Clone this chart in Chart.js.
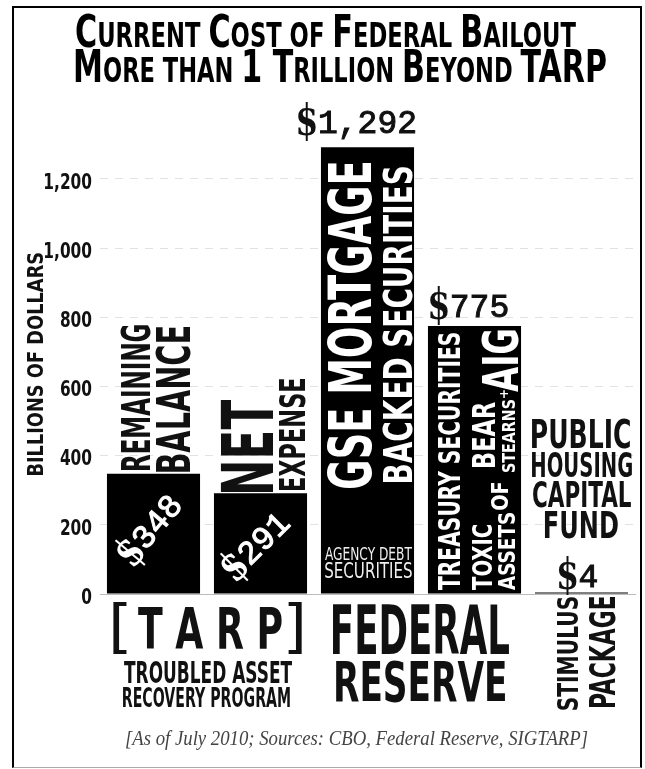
<!DOCTYPE html>
<html>
<head>
<meta charset="utf-8">
<script src="https://cdn.jsdelivr.net/npm/chart.js@4.4.1/dist/chart.umd.min.js"></script>
<style>
  html, body { margin: 0; padding: 0; background: #fff; }
  #wrap { position: relative; width: 645px; height: 769px; overflow: hidden; }
  #frame { position: absolute; left: 12px; top: 6px; width: 626px; height: 759px;
           border: 2px solid #000; border-bottom: 1px solid #aaa; }
  #chart { position: absolute; left: 0; top: 0; }
  #txt { position: absolute; left: 0; top: 0; pointer-events: none; }
</style>
</head>
<body>
<div id="wrap">
  <div id="frame"></div>
  <canvas id="chart" width="645" height="769"></canvas>
  <svg id="txt" width="645" height="769" xmlns="http://www.w3.org/2000/svg">
    <g font-family="'DejaVu Sans Condensed', 'DejaVu Sans', sans-serif" font-weight="bold" fill="#000">
      <text x="75" y="47" textLength="501" lengthAdjust="spacingAndGlyphs"><tspan font-size="44">C</tspan><tspan font-size="33">URRENT </tspan><tspan font-size="44">C</tspan><tspan font-size="33">OST OF </tspan><tspan font-size="44">F</tspan><tspan font-size="33">EDERAL </tspan><tspan font-size="44">B</tspan><tspan font-size="33">AILOUT</tspan></text>
      <text x="73" y="82" textLength="534" lengthAdjust="spacingAndGlyphs"><tspan font-size="44">M</tspan><tspan font-size="33">ORE THAN </tspan><tspan font-size="44">1 T</tspan><tspan font-size="33">RILLION </tspan><tspan font-size="44">B</tspan><tspan font-size="33">EYOND </tspan><tspan font-size="44">TARP</tspan></text>
    </g>
    <text x="125" y="745" font-family="'Liberation Serif', 'DejaVu Serif', serif" font-style="italic" font-size="20" fill="#444" textLength="463" lengthAdjust="spacingAndGlyphs">[As of July 2010; Sources: CBO, Federal Reserve, SIGTARP]</text>
  </svg>
</div>
<script>
// data (billions of dollars, July 2010)
const categories = ['Remaining Balance', 'Net Expense', 'GSE Mortgage Backed Securities',
                    'Treasury Securities / Toxic Assets', 'Public Housing Capital Fund'];
const values = [348, 291, 1292, 775, 4];
const tickValues = [0, 200, 400, 600, 800, 1000, 1200];

const COND = '"Liberation Sans Narrow", "DejaVu Sans Condensed", "Liberation Sans", sans-serif';
const SERIF = '"DejaVu Serif", "Liberation Serif", serif';
const MONO = '"Liberation Mono", "DejaVu Sans Mono", monospace';

// where the dollar amounts go, relative to each bar
const moneyPlace = [
    { inside: true, dx: -3.5, dy: -65, angle: -50 },
    { inside: true, dx: -4.5, dy: -49, angle: -45 },
    { dx: -10, dy: -14 },
    { dx: -5, dy: -9 },
    { dx: -3, dy: -6 }
];

// text boxes [text, 'h' or 'up', x0, y0, x1, y1, colour, weight]
const notes = [
    ['REMAINING', 'up', 121, 325, 150, 470, '#111', 'bold'],
    ['BALANCE', 'up', 155, 327, 190, 472, '#111', 'bold'],
    ['NET', 'up', 221, 400, 273, 492, '#111', 'bold'],
    ['EXPENSE', 'up', 278, 379, 305, 490, '#111', 'bold'],
    ['GSE MORTGAGE', 'up', 327, 163, 372, 488, '#fff', 'bold'],
    ['BACKED SECURITIES', 'up', 382, 167, 412, 482, '#fff', 'bold'],
    ['AGENCY DEBT', 'h', 325, 547, 412, 560, '#eee', 'normal'],
    ['SECURITIES', 'h', 325, 562, 412, 578, '#eee', 'normal'],
    ['TREASURY SECURITIES', 'up', 437, 333, 460, 590, '#fff', 'bold'],
    ['TOXIC', 'up', 472, 525, 492, 590, '#fff', 'bold'],
    ['ASSETS', 'up', 497, 513, 515, 590, '#fff', 'bold'],
    ['OF', 'up', 490, 483, 508, 510, '#fff', 'bold'],
    ['BEAR', 'up', 472, 402, 495, 467, '#fff', 'bold'],
    ['+', 'h', 500, 390, 508, 398, '#fff', 'bold'],
    ['STEARNS', 'up', 502, 400, 515, 472, '#fff', 'bold'],
    ['AIG', 'up', 480, 330, 518, 392, '#fff', 'bold'],
    ['PUBLIC', 'h', 532, 418, 630, 448, '#111', 'bold'],
    ['HOUSING', 'h', 532, 452, 632, 477, '#111', 'bold'],
    ['CAPITAL', 'h', 533, 480, 631, 507, '#111', 'bold'],
    ['FUND', 'h', 545, 510, 618, 538, '#111', 'bold'],
    ['[', 'h', 113, 602, 127, 655, '#111', 'normal'],
    ['T A R P', 'h', 138, 607, 282, 650, '#111', 'bold'],
    [']', 'h', 288, 602, 302, 655, '#111', 'normal'],
    ['TROUBLED ASSET', 'h', 124, 660, 292, 683, '#111', 'bold'],
    ['RECOVERY PROGRAM', 'h', 123, 687, 290, 707, '#111', 'bold'],
    ['FEDERAL', 'h', 333, 605, 509, 655, '#111', 'bold'],
    ['RESERVE', 'h', 336, 660, 505, 702, '#111', 'bold'],
    ['STIMULUS', 'up', 557, 597, 578, 710, '#111', 'bold'],
    ['PACKAGE', 'up', 588, 597, 615, 707, '#111', 'bold'],
    ['BILLIONS OF DOLLARS', 'up', 27, 253, 43, 475, '#111', 'bold']
];

// stretch a string so its ink fills len x hgt, centred on cx,cy
function fitText(ctx, txt, weight, family, cx, cy, len, hgt, angle, color) {
    ctx.save();
    ctx.font = weight + ' 100px ' + family;
    const m = ctx.measureText(txt);
    const w = m.actualBoundingBoxLeft + m.actualBoundingBoxRight;
    const h = m.actualBoundingBoxAscent + m.actualBoundingBoxDescent;
    ctx.translate(cx, cy);
    ctx.rotate(angle);
    ctx.scale(len / w, hgt / h);
    ctx.fillStyle = color;
    ctx.textAlign = 'left';
    ctx.textBaseline = 'alphabetic';
    ctx.fillText(txt, m.actualBoundingBoxLeft - w / 2, m.actualBoundingBoxAscent - h / 2);
    ctx.restore();
}

function moneyWidth(ctx, amount) {
    ctx.font = '33px ' + MONO;
    return 20 + ctx.measureText(amount).width;
}

// "$" + typewriter digits, origin at left end of baseline
function drawMoney(ctx, amount, ox, oy, angle, color) {
    ctx.save();
    ctx.translate(ox, oy);
    ctx.rotate(angle);
    fitText(ctx, '$', 'bold', SERIF, 9, -11, 18, 38, 0, color);
    ctx.font = '33px ' + MONO;
    ctx.fillStyle = color;
    ctx.strokeStyle = color;
    ctx.lineWidth = 1;
    ctx.textBaseline = 'alphabetic';
    ctx.fillText(amount, 20, 0);
    ctx.strokeText(amount, 20, 0);
    ctx.restore();
}

const annotations = {
    id: 'annotations',
    afterDatasetsDraw(chart) {
        const ctx = chart.ctx;
        const yScale = chart.scales.y;
        const area = chart.chartArea;
        const y0 = yScale.getPixelForValue(0);
        const sx = area.left - 100, sy = y0 - 594;

        // y tick labels
        ctx.save();
        ctx.font = 'bold 100px ' + COND;
        const z = ctx.measureText('0');
        const kx = 10.7 / z.width, ky = 16.5 / z.actualBoundingBoxAscent;
        ctx.fillStyle = '#111';
        ctx.textAlign = 'right';
        tickValues.forEach(v => {
            const py = yScale.getPixelForValue(v);
            ctx.save();
            ctx.translate(area.left - 8, py + 9.75);
            ctx.scale(kx, ky);
            ctx.fillText(v.toLocaleString('en-US'), 0, 0);
            ctx.restore();
        });
        ctx.restore();

        // dollar amounts
        chart.getDatasetMeta(0).data.forEach((bar, i) => {
            const amount = values[i].toLocaleString('en-US');
            const p = moneyPlace[i];
            const W = moneyWidth(ctx, amount);
            if (p.inside) {
                const a = p.angle * Math.PI / 180;
                const cx = bar.x + p.dx, cy = y0 + p.dy;
                const u = W / 2, v = -11;
                const ox = cx - (u * Math.cos(a) - v * Math.sin(a));
                const oy = cy - (u * Math.sin(a) + v * Math.cos(a));
                drawMoney(ctx, amount, ox, oy, a, '#fff');
            } else {
                drawMoney(ctx, amount, bar.x + p.dx - W / 2, bar.y + p.dy, 0, '#111');
            }
        });

        // labels
        notes.forEach(n => {
            const [txt, kind, x0, y0b, x1, y1, col, wt] = n;
            const a = x0 + sx, b = y0b + sy, c = x1 + sx, d = y1 + sy;
            if (kind === 'up') {
                fitText(ctx, txt, wt, COND, (a + c) / 2, (b + d) / 2, d - b, c - a, -Math.PI / 2, col);
            } else {
                fitText(ctx, txt, wt, COND, (a + c) / 2, (b + d) / 2, c - a, d - b, 0, col);
            }
        });
    }
};

new Chart(document.getElementById('chart'), {
    type: 'bar',
    data: {
        labels: categories,
        datasets: [{
            data: values,
            backgroundColor: '#000',
            borderWidth: 0,
            categoryPercentage: 1,
            barPercentage: 0.87
        }]
    },
    options: {
        responsive: false,
        animation: false,
        devicePixelRatio: 1,
        layout: { padding: { left: 13, right: 10, top: 144.4, bottom: 175 } },
        plugins: {
            legend: { display: false },
            tooltip: { enabled: false },
            title: { display: false }
        },
        scales: {
            x: {
                grid: { display: false },
                ticks: { display: false },
                border: { display: true, color: '#bbb', width: 1 },
                afterFit: s => { s.height = 0; }
            },
            y: {
                min: 0,
                max: 1300,
                ticks: { display: false },
                grid: { color: '#e2e2e2', lineWidth: 1, drawTicks: false },
                border: { display: false, dash: [8, 7] },
                afterBuildTicks: s => { s.ticks = tickValues.map(v => ({ value: v })); },
                afterFit: s => { s.width = 87; }
            }
        }
    }
    ,
    plugins: [annotations]
});
</script>
</body>
</html>
